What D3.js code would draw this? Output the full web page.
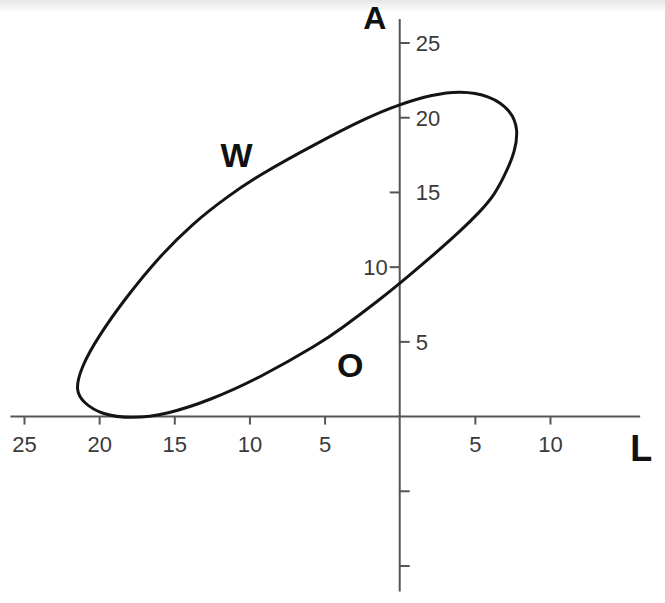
<!DOCTYPE html>
<html>
<head>
<meta charset="utf-8">
<script src="https://cdn.jsdelivr.net/npm/d3@7"></script>
<style>
  html, body { margin: 0; padding: 0; background: #fff; }
  svg { display: block; }
</style>
</head>
<body>
<div id="chart"></div>
<script>
// ---- data ----
const xTicks = [-25, -20, -15, -10, -5, 5, 10];
const xTickLabels = ["25", "20", "15", "10", "5", "5", "10"];
const yTicks = [25, 20, 15, 10, 5, -5, -10];
const yTickLabels = ["25", "20", "15", "10", "5", "", ""];
const yTickSide = ["right", "right", "left", "left", "right", "right", "right"];
const yLabelSide = ["right", "right", "right", "left", "right", "right", "right"];

// loop outline (L, A)
const loopL = [-21.6, -21.2, -20.1, -18.2, -16.0, -13.8, -11.5, -9.3, -5.5, -2.2, 0.0, 2.2, 4.0, 6.0, 7.4, 7.9, 7.65, 7.12, 6.32, 5.32, 4.12, 2.0, 0.0, -1.3, -4.0, -5.3, -9.3, -12.6, -15.5, -17.8, -19.9, -21.0];
const loopA = [1.7, 3.3, 5.3, 8.0, 10.7, 12.9, 14.7, 16.2, 18.3, 20.0, 20.9, 21.55, 21.8, 21.5, 20.5, 19.2, 17.7, 16.42, 14.83, 13.69, 12.49, 10.6, 8.9, 7.85, 5.8, 4.9, 2.6, 1.1, 0.15, -0.15, 0.15, 0.9];

const annotations = [
  { text: "W", L: -10.85, A: 16.7 },
  { text: "O", L: -3.3, A: 2.65 }
];
const xTitle = "L";
const yTitle = "A";
const xExtent = [-25.9, 16.0];
const yExtent = [-11.7, 26.6];

// ---- drawing ----
const W = 665, H = 603;
const svg = d3.select("#chart").append("svg").attr("width", W).attr("height", H);

const defs = svg.append("defs");
const grad = defs.append("linearGradient").attr("id", "topfade").attr("x1", 0).attr("y1", 0).attr("x2", 0).attr("y2", 1);
grad.append("stop").attr("offset", "0%").attr("stop-color", "#e6e6e6");
grad.append("stop").attr("offset", "100%").attr("stop-color", "#ffffff");
svg.append("rect").attr("width", W).attr("height", 12).attr("fill", "url(#topfade)");

const x = d3.scaleLinear().domain([-25, 10]).range([24, 550]);
const y = d3.scaleLinear().domain([-10, 25]).range([566, 43]);

const font = "'Liberation Sans', Arial, Helvetica, sans-serif";
const axisColor = "#555";
const labelColor = "#3a3a3a";

// x axis line
svg.append("line")
  .attr("x1", x(xExtent[0])).attr("x2", x(xExtent[1]))
  .attr("y1", y(0)).attr("y2", y(0))
  .attr("stroke", axisColor).attr("stroke-width", 2);

// y axis line
svg.append("line")
  .attr("x1", x(0)).attr("x2", x(0))
  .attr("y1", y(yExtent[0])).attr("y2", y(yExtent[1]))
  .attr("stroke", axisColor).attr("stroke-width", 2);

// x ticks via d3 axis
const xAxis = d3.axisBottom(x)
  .tickValues(xTicks)
  .tickFormat((d, i) => xTickLabels[i])
  .tickSize(8)
  .tickSizeOuter(0)
  .tickPadding(12);
const gx = svg.append("g").attr("transform", `translate(0,${y(0)})`).call(xAxis);
gx.select(".domain").remove();
gx.selectAll(".tick line").attr("stroke", axisColor).attr("stroke-width", 2);
gx.selectAll(".tick text")
  .attr("fill", labelColor)
  .style("font-family", font)
  .style("font-size", "22px");

// y ticks (mixed sides)
const gy = svg.append("g");
yTicks.forEach((v, i) => {
  const dir = yTickSide[i] === "right" ? 1 : -1;
  gy.append("line")
    .attr("x1", x(0)).attr("x2", x(0) + dir * 10)
    .attr("y1", y(v)).attr("y2", y(v))
    .attr("stroke", axisColor).attr("stroke-width", 2);
  if (yTickLabels[i]) {
    const ldir = yLabelSide[i] === "right" ? 1 : -1;
    gy.append("text")
      .attr("x", x(0) + ldir * (ldir > 0 ? 16 : 12))
      .attr("y", y(v))
      .attr("dy", "0.36em")
      .attr("text-anchor", ldir > 0 ? "start" : "end")
      .attr("fill", labelColor)
      .style("font-family", font)
      .style("font-size", "22px")
      .text(yTickLabels[i]);
  }
});

// loop
const pts = loopL.map((l, i) => [x(l), y(loopA[i])]);
const line = d3.line().curve(d3.curveBasisClosed);
svg.append("path")
  .attr("d", line(pts))
  .attr("fill", "none")
  .attr("stroke", "#141414")
  .attr("stroke-width", 3);

// annotations
annotations.forEach(a => {
  svg.append("text")
    .attr("x", x(a.L)).attr("y", y(a.A))
    .attr("text-anchor", "middle")
    .attr("fill", "#111")
    .style("font-family", font)
    .style("font-weight", "bold")
    .style("font-size", "34px")
    .text(a.text);
});

// axis titles
svg.append("text")
  .attr("x", x(0) - 25).attr("y", y(yExtent[1]) + 10)
  .attr("text-anchor", "middle")
  .attr("fill", "#111")
  .style("font-family", font)
  .style("font-weight", "bold")
  .style("font-size", "32px")
  .text(yTitle);

svg.append("text")
  .attr("x", x(xExtent[1]) + 1).attr("y", y(0) + 44)
  .attr("text-anchor", "middle")
  .attr("fill", "#111")
  .style("font-family", font)
  .style("font-weight", "bold")
  .style("font-size", "36px")
  .text(xTitle);
</script>
</body>
</html>
